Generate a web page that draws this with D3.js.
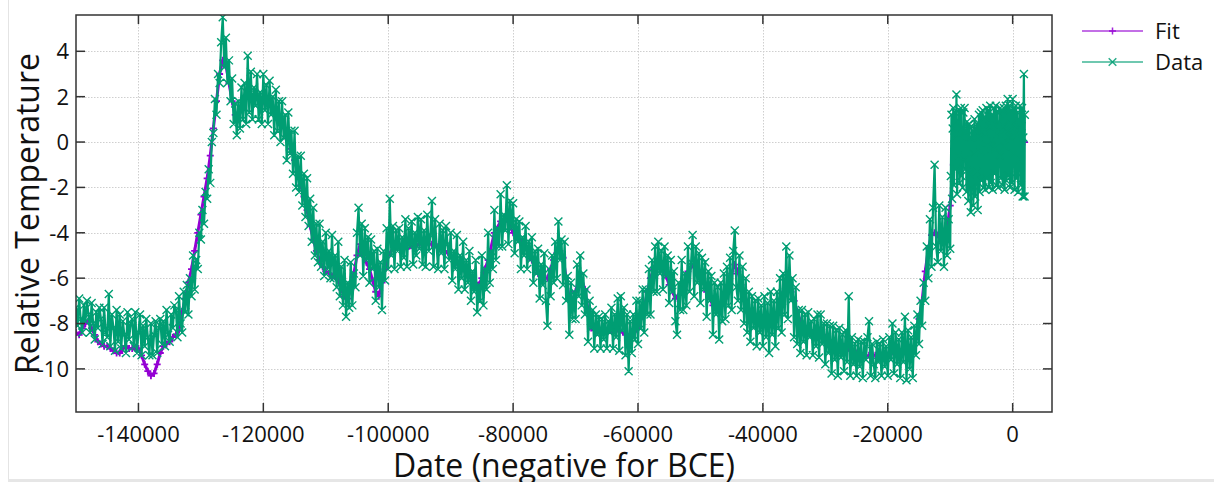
<!DOCTYPE html>
<html><head><meta charset="utf-8">
<script src="https://cdn.jsdelivr.net/npm/d3@7"></script>
<style>html,body{margin:0;padding:0;background:#fff;}svg{display:block;font-family:"Open Sans","Noto Sans",sans-serif;}</style>
</head><body>
<svg id="chart" width="1214" height="482"></svg>
<script>
const xTicks = [-140000, -120000, -100000, -80000, -60000, -40000, -20000, 0];
const yTicks = [-10, -8, -6, -4, -2, 0, 2, 4];
const xDomain = [-150000, 6300];
const yDomain = [-11.9, 5.6];
const seriesNames = ["Fit", "Data"];
const xTitle = "Date (negative for BCE)";
const yTitle = "Relative Temperature";

const fitPoints = [
[-150000,-8.4],[-149500,-8.5],[-149000,-8.2],[-148500,-8.0],[-148000,-7.9],[-147500,-8.2],[-147000,-8.5],[-146500,-8.8],[-146000,-8.9],[-145500,-9.0],[-145000,-9.0],[-144500,-9.1],[-144000,-9.2],[-143500,-9.3],[-143000,-9.3],[-142500,-9.1],[-142000,-9.0],[-141500,-9.1],[-141000,-9.1],[-140500,-9.1],[-140000,-9.1],[-139500,-9.4],[-139000,-9.8],[-138500,-10.1],[-138000,-10.3],[-137500,-10.2],[-137000,-9.8],[-136500,-9.3],[-136000,-9.0],[-135500,-8.9],[-135000,-8.8],[-134500,-8.6],[-134000,-8.5],[-133500,-8.3],[-133000,-7.5],[-132500,-6.9],[-132000,-6.2],[-131500,-5.6],[-131000,-4.8],[-130500,-4.0],[-130000,-3.2],[-129500,-2.4],[-129000,-1.6],[-128500,-0.6],[-128000,0.6],[-127500,1.8],[-127000,3.0],[-126500,3.6],[-126000,3.4],[-125500,2.6],[-125000,1.8],[-124500,1.2],[-124000,1.3],[-123500,1.6],[-123000,1.9],[-122000,2.1],[-121000,2.0],[-120000,1.8],[-119000,1.7],[-118000,1.3],[-117000,0.8],[-116000,0.1],[-115500,-0.3],[-115000,-0.8],[-114500,-1.3],[-114000,-1.9],[-113500,-2.4],[-113000,-3.0],[-112500,-3.7],[-112000,-4.3],[-111500,-4.8],[-111000,-5.2],[-110500,-5.5],[-110000,-5.7],[-109000,-5.9],[-108000,-6.1],[-107500,-6.5],[-107000,-6.8],[-106500,-6.9],[-106000,-6.5],[-105500,-5.8],[-105000,-5.0],[-104500,-4.5],[-104000,-5.0],[-103500,-5.3],[-103000,-5.6],[-102500,-6.1],[-102000,-6.6],[-101500,-6.8],[-101000,-6.2],[-100500,-5.6],[-100000,-5.0],[-99000,-4.6],[-98000,-4.6],[-97000,-4.7],[-96000,-4.6],[-95000,-4.5],[-94000,-4.5],[-93000,-4.5],[-92000,-4.6],[-91000,-4.8],[-90000,-5.0],[-89000,-5.3],[-88000,-5.6],[-87000,-5.9],[-86000,-6.2],[-85500,-6.3],[-85000,-6.0],[-84500,-5.6],[-84000,-5.2],[-83000,-4.0],[-82000,-3.5],[-81000,-3.4],[-80000,-4.0],[-79000,-4.3],[-78000,-4.6],[-77000,-5.2],[-76000,-5.8],[-75000,-6.0],[-74500,-6.0],[-74000,-5.6],[-73500,-5.2],[-73000,-4.9],[-72500,-4.8],[-72000,-5.1],[-71500,-6.0],[-71000,-6.9],[-70500,-7.0],[-70000,-6.6],[-69300,-5.8],[-68500,-6.5],[-68000,-7.4],[-67500,-8.2],[-67000,-8.3],[-66000,-8.4],[-65000,-8.4],[-64000,-8.4],[-63000,-8.3],[-62000,-8.5],[-61000,-8.6],[-60000,-8.2],[-59500,-7.8],[-59000,-7.3],[-58500,-6.6],[-58000,-6.0],[-57500,-5.6],[-57000,-5.3],[-56500,-5.3],[-56000,-5.5],[-55500,-5.9],[-55000,-6.3],[-54000,-6.9],[-53000,-6.5],[-52000,-5.7],[-51000,-5.4],[-50000,-5.8],[-49000,-6.6],[-48000,-7.2],[-47000,-7.5],[-46000,-6.9],[-45500,-6.4],[-45000,-5.8],[-44500,-5.4],[-44000,-5.7],[-43500,-6.3],[-43000,-6.9],[-42000,-7.8],[-41000,-8.0],[-40000,-8.0],[-39000,-8.0],[-38000,-7.8],[-37000,-7.0],[-36500,-6.6],[-36000,-6.3],[-35500,-6.6],[-35000,-7.0],[-34000,-7.9],[-33000,-8.3],[-32000,-8.4],[-31000,-8.5],[-30000,-8.6],[-29000,-8.9],[-28000,-9.1],[-27000,-9.0],[-26000,-9.2],[-25000,-9.3],[-24000,-9.5],[-23000,-9.4],[-22000,-9.4],[-21000,-9.5],[-20000,-9.4],[-19000,-9.3],[-18000,-9.4],[-17000,-9.3],[-16000,-9.2],[-15500,-8.7],[-15000,-7.8],[-14500,-7.0],[-14000,-5.7],[-13500,-4.7],[-13000,-4.1],[-12500,-4.0],[-12000,-4.1],[-11500,-4.2],[-11000,-4.3],[-10500,-3.8],[-10000,-2.8],[-9500,-1.0],[-9000,-0.3],[-8000,-0.4],[-7000,-0.7],[-6000,-0.8],[-5000,-0.5],[-4000,-0.2],[-3000,-0.1],[-2000,-0.1],[-1000,0.0],[0,0.0],[1000,-0.1],[1900,0.0]
];

const dataPoints = [
[-150000,-7.3],[-149750,-8.1],[-149500,-6.9],[-149250,-7.8],[-149000,-8.4],[-148750,-7.2],[-148500,-7.9],[-148250,-7.0],
[-148000,-7.6],[-147750,-8.4],[-147500,-7.1],[-147250,-8.0],[-147000,-8.7],[-146750,-7.5],[-146500,-8.2],[-146250,-7.3],
[-146000,-7.8],[-145750,-8.9],[-145500,-7.3],[-145250,-8.4],[-145000,-8.6],[-144750,-6.7],[-144500,-9.0],[-144250,-7.6],
[-144000,-8.2],[-143750,-9.2],[-143500,-7.4],[-143250,-8.8],[-143000,-7.6],[-142750,-9.1],[-142500,-7.9],[-142250,-8.5],
[-142000,-9.3],[-141750,-7.5],[-141500,-8.7],[-141250,-8.0],[-141000,-7.8],[-140750,-9.0],[-140500,-7.5],[-140250,-9.3],
[-140000,-8.4],[-139750,-7.6],[-139500,-9.4],[-139250,-8.1],[-139000,-9.0],[-138750,-7.8],[-138500,-8.6],[-138250,-9.4],
[-138000,-8.0],[-137750,-9.4],[-137500,-8.5],[-137250,-7.9],[-137000,-9.3],[-136750,-8.2],[-136500,-7.8],[-136250,-8.9],
[-136000,-7.9],[-135750,-9.0],[-135500,-7.4],[-135250,-8.5],[-135000,-8.8],[-134750,-7.6],[-134500,-8.2],[-134250,-7.2],
[-134000,-7.4],[-133750,-8.6],[-133500,-6.8],[-133250,-8.0],[-133000,-8.4],[-132750,-6.6],[-132500,-7.5],[-132250,-6.3],
[-132000,-7.6],[-131750,-6.0],[-131500,-6.8],[-131250,-5.0],[-131000,-6.5],[-130750,-5.2],[-130500,-5.6],[-130250,-4.0],
[-130000,-4.3],[-129750,-3.0],[-129500,-3.6],[-129250,-2.2],[-129000,-2.5],[-128750,-1.2],[-128500,-1.8],[-128250,0.0],
[-128000,0.4],[-127750,1.9],[-127500,1.2],[-127250,3.0],[-127000,2.6],[-126750,4.4],[-126500,5.5],[-126250,3.3],
[-126000,4.6],[-125750,2.6],[-125500,3.6],[-125250,1.8],[-125000,2.8],[-124750,0.8],[-124500,1.7],[-124250,0.3],
[-124000,1.8],[-123750,0.6],[-123500,2.4],[-123250,1.0],[-123000,2.6],[-122750,0.8],[-122500,3.8],[-122250,1.3],
[-122000,3.1],[-121750,1.0],[-121500,2.4],[-121250,1.6],[-121000,3.0],[-120750,1.0],[-120500,2.2],[-120250,0.8],
[-120000,3.0],[-119750,1.4],[-119500,2.5],[-119250,0.8],[-119000,2.7],[-118750,1.2],[-118500,2.0],[-118250,0.3],
[-118000,2.3],[-117750,0.5],[-117500,1.8],[-117250,0.0],[-117000,1.8],[-116750,0.2],[-116500,1.2],[-116250,-0.8],
[-116000,1.3],[-115750,-0.5],[-115500,0.5],[-115250,-1.4],[-115000,0.5],[-114750,-2.0],[-114500,-0.6],[-114250,-2.2],
[-114000,-0.6],[-113750,-2.8],[-113500,-1.4],[-113250,-3.3],[-113000,-1.6],[-112750,-3.7],[-112500,-2.5],[-112250,-4.4],
[-112000,-2.9],[-111750,-5.0],[-111500,-3.6],[-111250,-5.3],[-111000,-3.6],[-110750,-5.5],[-110500,-4.4],[-110250,-5.9],
[-110000,-4.0],[-109750,-5.6],[-109500,-4.8],[-109250,-6.0],[-109000,-4.1],[-108750,-6.0],[-108500,-5.0],[-108250,-6.4],
[-108000,-4.4],[-107750,-6.8],[-107500,-5.5],[-107250,-7.2],[-107000,-5.2],[-106750,-7.7],[-106500,-6.2],[-106250,-7.3],
[-106000,-5.3],[-105750,-7.2],[-105500,-5.8],[-105250,-6.4],[-105000,-4.0],[-104750,-2.9],[-104500,-5.0],[-104250,-3.6],
[-104000,-5.9],[-103750,-3.8],[-103500,-5.2],[-103250,-4.2],[-103000,-6.2],[-102750,-4.3],[-102500,-5.6],[-102250,-4.8],
[-102000,-7.0],[-101750,-4.7],[-101500,-6.4],[-101250,-5.3],[-101000,-7.4],[-100750,-4.8],[-100500,-6.1],[-100250,-3.8],
[-100000,-5.6],[-99750,-2.5],[-99500,-5.0],[-99250,-3.7],[-99000,-5.6],[-98750,-3.9],[-98500,-4.8],[-98250,-3.8],
[-98000,-5.5],[-97750,-4.2],[-97500,-5.1],[-97250,-3.4],[-97000,-5.5],[-96750,-3.8],[-96500,-4.6],[-96250,-3.5],
[-96000,-5.4],[-95750,-4.0],[-95500,-5.0],[-95250,-3.3],[-95000,-4.7],[-94750,-3.4],[-94500,-5.4],[-94250,-3.9],
[-94000,-5.5],[-93750,-3.2],[-93500,-4.8],[-93250,-4.1],[-93000,-2.6],[-92750,-5.5],[-92500,-3.4],[-92250,-4.6],
[-92000,-5.6],[-91750,-3.6],[-91500,-4.9],[-91250,-3.9],[-91000,-5.6],[-90750,-3.7],[-90500,-4.5],[-90250,-5.2],
[-90000,-4.0],[-89750,-6.1],[-89500,-4.8],[-89250,-5.6],[-89000,-4.1],[-88750,-6.5],[-88500,-5.0],[-88250,-6.0],
[-88000,-4.4],[-87750,-6.5],[-87500,-5.2],[-87250,-6.2],[-87000,-4.8],[-86750,-7.0],[-86500,-5.7],[-86250,-6.6],
[-86000,-5.2],[-85750,-7.5],[-85500,-6.3],[-85250,-7.0],[-85000,-5.0],[-84750,-7.2],[-84500,-5.6],[-84250,-6.5],
[-84000,-4.0],[-83750,-6.2],[-83500,-4.8],[-83250,-5.6],[-83000,-3.0],[-82750,-5.2],[-82500,-3.8],[-82250,-4.6],
[-82000,-2.3],[-81750,-4.6],[-81500,-3.2],[-81250,-3.9],[-81000,-1.9],[-80750,-4.5],[-80500,-2.6],[-80250,-3.8],
[-80000,-2.7],[-79750,-4.9],[-79500,-3.4],[-79250,-4.4],[-79000,-3.5],[-78750,-5.6],[-78500,-4.2],[-78250,-5.0],
[-78000,-3.7],[-77750,-5.6],[-77500,-4.4],[-77250,-5.2],[-77000,-4.2],[-76750,-6.2],[-76500,-4.8],[-76250,-5.8],
[-76000,-4.7],[-75750,-6.9],[-75500,-5.4],[-75250,-6.3],[-75000,-4.9],[-74750,-7.0],[-74500,-8.1],[-74250,-5.6],
[-74000,-6.8],[-73750,-5.0],[-73500,-6.2],[-73250,-4.4],[-73000,-6.0],[-72750,-3.5],[-72500,-5.2],[-72250,-4.3],
[-72000,-6.3],[-71750,-4.4],[-71500,-7.0],[-71250,-5.9],[-71000,-8.5],[-70750,-6.2],[-70500,-7.8],[-70250,-6.6],
[-70000,-7.8],[-69750,-5.4],[-69500,-6.8],[-69250,-5.0],[-69000,-7.2],[-68750,-5.8],[-68500,-7.6],[-68250,-6.5],
[-68000,-8.8],[-67750,-7.0],[-67500,-8.2],[-67250,-7.4],[-67000,-9.1],[-66750,-7.6],[-66500,-8.5],[-66250,-7.7],
[-66000,-9.1],[-65750,-7.8],[-65500,-8.7],[-65250,-7.6],[-65000,-9.1],[-64750,-7.9],[-64500,-8.4],[-64250,-7.3],
[-64000,-9.1],[-63750,-7.6],[-63500,-8.6],[-63250,-6.9],[-63000,-9.2],[-62750,-6.8],[-62500,-8.3],[-62250,-7.3],
[-62000,-9.4],[-61750,-7.6],[-61500,-10.1],[-61250,-7.9],[-61000,-9.3],[-60750,-7.6],[-60500,-8.7],[-60250,-7.0],
[-60000,-8.9],[-59750,-7.0],[-59500,-8.2],[-59250,-6.5],[-59000,-8.4],[-58750,-6.5],[-58500,-7.6],[-58250,-5.6],
[-58000,-7.6],[-57750,-5.2],[-57500,-6.6],[-57250,-4.6],[-57000,-6.6],[-56750,-4.4],[-56500,-5.8],[-56250,-4.8],
[-56000,-6.5],[-55750,-4.6],[-55500,-5.9],[-55250,-5.0],[-55000,-7.1],[-54750,-5.2],[-54500,-6.6],[-54250,-5.7],
[-54000,-7.9],[-53750,-8.5],[-53500,-6.2],[-53250,-7.4],[-53000,-5.2],[-52750,-7.4],[-52500,-5.8],[-52250,-7.2],
[-52000,-4.6],[-51750,-6.6],[-51500,-5.3],[-51250,-4.1],[-51000,-6.8],[-50750,-4.6],[-50500,-6.2],[-50250,-4.9],
[-50000,-7.1],[-49750,-5.1],[-49500,-6.5],[-49250,-5.3],[-49000,-7.7],[-48750,-5.7],[-48500,-7.0],[-48250,-5.9],
[-48000,-8.5],[-47750,-6.2],[-47500,-7.6],[-47250,-6.4],[-47000,-8.7],[-46750,-6.2],[-46500,-7.9],[-46250,-5.8],
[-46000,-7.8],[-45750,-5.5],[-45500,-7.2],[-45250,-5.1],[-45000,-7.4],[-44750,-4.8],[-44500,-3.9],[-44250,-6.4],
[-44000,-7.0],[-43750,-5.0],[-43500,-7.4],[-43250,-5.5],[-43000,-8.0],[-42750,-6.0],[-42500,-8.4],[-42250,-6.6],
[-42000,-8.8],[-41750,-6.8],[-41500,-8.2],[-41250,-7.0],[-41000,-9.0],[-40750,-6.9],[-40500,-8.4],[-40250,-7.2],
[-40000,-9.0],[-39750,-6.8],[-39500,-8.6],[-39250,-7.1],[-39000,-9.3],[-38750,-6.6],[-38500,-8.5],[-38250,-7.0],
[-38000,-9.0],[-37750,-6.6],[-37500,-8.2],[-37250,-6.0],[-37000,-8.4],[-36750,-5.8],[-36500,-7.6],[-36250,-4.6],
[-36000,-7.8],[-35750,-5.0],[-35500,-7.0],[-35250,-6.0],[-35000,-8.6],[-34750,-6.4],[-34500,-8.9],[-34250,-7.4],
[-34000,-9.3],[-33750,-7.4],[-33500,-8.8],[-33250,-7.6],[-33000,-9.4],[-32750,-7.5],[-32500,-8.6],[-32250,-7.9],
[-32000,-9.4],[-31750,-7.8],[-31500,-9.0],[-31250,-7.6],[-31000,-9.5],[-30750,-7.6],[-30500,-8.9],[-30250,-8.0],
[-30000,-9.8],[-29750,-8.0],[-29500,-9.3],[-29250,-8.1],[-29000,-10.2],[-28750,-8.1],[-28500,-9.6],[-28250,-8.3],
[-28000,-10.3],[-27750,-8.2],[-27500,-9.5],[-27250,-8.5],[-27000,-10.1],[-26750,-8.3],[-26500,-9.7],[-26250,-6.8],
[-26000,-10.3],[-25750,-8.6],[-25500,-9.8],[-25250,-8.9],[-25000,-10.3],[-24750,-8.7],[-24500,-9.9],[-24250,-8.8],
[-24000,-10.4],[-23750,-8.8],[-23500,-9.6],[-23250,-8.6],[-23000,-7.9],[-22750,-10.3],[-22500,-8.9],[-22250,-9.8],
[-22000,-10.4],[-21750,-8.8],[-21500,-9.7],[-21250,-8.9],[-21000,-10.3],[-20750,-8.7],[-20500,-9.9],[-20250,-9.0],
[-20000,-10.3],[-19750,-8.6],[-19500,-9.6],[-19250,-8.0],[-19000,-10.2],[-18750,-8.4],[-18500,-9.8],[-18250,-8.7],
[-18000,-10.4],[-17750,-8.4],[-17500,-9.7],[-17250,-7.7],[-17000,-10.5],[-16750,-8.3],[-16500,-10.0],[-16250,-8.6],
[-16000,-10.4],[-15750,-8.1],[-15500,-9.4],[-15250,-7.6],[-15000,-8.9],[-14750,-7.0],[-14500,-8.1],[-14250,-6.2],
[-14000,-7.0],[-13750,-4.6],[-13500,-6.0],[-13250,-3.4],[-13000,-5.5],[-12750,-2.9],[-12500,-1.0],[-12250,-4.6],
[-12000,-5.3],[-11750,-2.8],[-11500,-4.8],[-11250,-3.3],[-11000,-5.5],[-10750,-2.9],[-10500,-5.0],[-10250,-3.4],
[-10000,-4.7],[-9900,-1.5],[-9800,1.2],[-9700,-2.5],[-9600,0.6],[-9500,1.5],[-9400,-1.9],[-9300,0.2],[-9200,1.3],[-9100,-1.2],
[-9000,2.1],[-8900,-2.3],[-8800,0.9],[-8700,-0.6],[-8600,1.4],[-8500,-1.8],[-8400,0.3],[-8300,1.5],[-8200,-1.5],[-8100,0.6],
[-8000,-2.0],[-7900,1.3],[-7800,-0.8],[-7700,1.5],[-7600,-1.2],[-7500,0.4],[-7400,-2.2],[-7300,0.9],[-7200,-1.0],[-7100,-2.6],
[-7000,0.8],[-6900,-1.4],[-6800,0.2],[-6700,-3.1],[-6600,0.7],[-6500,-2.0],[-6400,0.5],[-6300,-2.8],[-6200,-0.5],[-6100,1.0],
[-6000,-2.4],[-5900,0.6],[-5800,-1.3],[-5700,0.8],[-5600,-3.0],[-5500,0.2],[-5400,1.2],[-5300,-2.2],[-5200,-0.4],[-5100,1.3],
[-5000,-1.7],[-4900,0.5],[-4800,1.4],[-4700,-2.0],[-4600,-0.3],[-4500,1.1],[-4400,-2.1],[-4300,0.4],[-4200,1.5],[-4100,-1.6],
[-4000,-0.2],[-3900,1.4],[-3800,-2.0],[-3700,0.7],[-3600,1.6],[-3500,-1.8],[-3400,0.1],[-3300,1.2],[-3200,-2.1],[-3100,0.8],
[-3000,1.5],[-2900,-1.4],[-2800,-0.3],[-2700,1.6],[-2600,-1.9],[-2500,0.4],[-2400,1.3],[-2300,-2.0],[-2200,0.9],[-2100,-0.6],
[-2000,1.5],[-1900,-1.6],[-1800,0.3],[-1700,1.4],[-1600,-1.9],[-1500,0.7],[-1400,1.5],[-1300,-2.1],[-1200,-0.2],[-1100,1.6],
[-1000,-1.7],[-900,0.5],[-800,1.9],[-700,-1.5],[-600,0.2],[-500,1.6],[-400,-2.0],[-300,0.8],[-200,1.4],[-100,-1.8],
[0,1.9],[100,-0.5],[200,1.5],[300,-2.1],[400,0.6],[500,1.6],[600,-1.6],[700,0.3],[800,1.3],[900,-2.2],
[1000,1.0],[1100,-0.8],[1200,1.6],[1300,-1.9],[1400,0.7],[1500,1.5],[1600,-2.4],[1700,0.2],[1800,3.0],[1900,-2.4],[1950,1.2]
];

const fitColor = "#9400d3";
const dataColor = "#009e73";

const svg = d3.select("#chart");
const M = {left: 76, right: 1052, top: 15, bottom: 412};
const x = d3.scaleLinear().domain(xDomain).range([M.left, M.right]);
const y = d3.scaleLinear().domain(yDomain).range([M.bottom, M.top]);

// screenshot frame artifacts
svg.append("line").attr("x1", 8.5).attr("x2", 8.5).attr("y1", 0).attr("y2", 479).attr("stroke", "#e4e4e4").attr("stroke-width", 1);
svg.append("rect").attr("x", 8).attr("y", 479).attr("width", 1206).attr("height", 3).attr("fill", "#e6e6e6");

// grid
const grid = svg.append("g").attr("stroke", "#cfcfcf").attr("stroke-width", 1).attr("stroke-dasharray", "1.5,1.5");
grid.selectAll("line.gx").data(xTicks).join("line").attr("class", "gx")
  .attr("x1", d => Math.round(x(d)) + 0.5).attr("x2", d => Math.round(x(d)) + 0.5)
  .attr("y1", M.top).attr("y2", M.bottom);
grid.selectAll("line.gy").data(yTicks).join("line").attr("class", "gy")
  .attr("y1", d => Math.round(y(d)) + 0.5).attr("y2", d => Math.round(y(d)) + 0.5)
  .attr("x1", M.left).attr("x2", M.right);

svg.append("defs").append("clipPath").attr("id", "clip")
  .append("rect").attr("x", M.left).attr("y", M.top).attr("width", M.right - M.left).attr("height", M.bottom - M.top);

const plot = svg.append("g").attr("clip-path", "url(#clip)");
const line = d3.line().x(d => x(d[0])).y(d => y(d[1]));

const plusPath = (cx, cy, s) => `M${cx - s},${cy}H${cx + s}M${cx},${cy - s}V${cy + s}`;
const crossPath = (cx, cy, s) => `M${cx - s},${cy - s}L${cx + s},${cy + s}M${cx - s},${cy + s}L${cx + s},${cy - s}`;

// Fit
plot.append("path").datum(fitPoints).attr("d", line).attr("fill", "none")
  .attr("stroke", fitColor).attr("stroke-width", 3).attr("stroke-linejoin", "round");
plot.append("path")
  .attr("d", fitPoints.map(d => plusPath(x(d[0]), y(d[1]), 3.5)).join(""))
  .attr("stroke", fitColor).attr("stroke-width", 1.8).attr("fill", "none");

// Data
plot.append("path").datum(dataPoints).attr("d", line).attr("fill", "none")
  .attr("stroke", dataColor).attr("stroke-width", 2.2).attr("stroke-linejoin", "round");
plot.append("path")
  .attr("d", dataPoints.map(d => crossPath(x(d[0]), y(d[1]), 4)).join(""))
  .attr("stroke", dataColor).attr("stroke-width", 1.4).attr("fill", "none");

// frame and ticks
const axisColor = "#333";
const tk = 9;
const fr = svg.append("g").attr("stroke", axisColor).attr("stroke-width", 1.5).attr("fill", "none");
fr.append("rect").attr("x", M.left).attr("y", M.top).attr("width", M.right - M.left).attr("height", M.bottom - M.top);
fr.selectAll("line.xb").data(xTicks).join("line").attr("class", "xb")
  .attr("x1", d => x(d)).attr("x2", d => x(d)).attr("y1", M.bottom).attr("y2", M.bottom - tk);
fr.selectAll("line.xt").data(xTicks).join("line").attr("class", "xt")
  .attr("x1", d => x(d)).attr("x2", d => x(d)).attr("y1", M.top).attr("y2", M.top + tk);
fr.selectAll("line.yl").data(yTicks).join("line").attr("class", "yl")
  .attr("y1", d => y(d)).attr("y2", d => y(d)).attr("x1", M.left).attr("x2", M.left + tk);
fr.selectAll("line.yr").data(yTicks).join("line").attr("class", "yr")
  .attr("y1", d => y(d)).attr("y2", d => y(d)).attr("x1", M.right).attr("x2", M.right - tk);

// tick labels
svg.selectAll("text.xl").data(xTicks).join("text").attr("class", "xl")
  .attr("x", d => x(d)).attr("y", 442).attr("text-anchor", "middle")
  .attr("font-size", 22).attr("fill", "#111").text(d => String(d));
svg.selectAll("text.ylb").data(yTicks).join("text").attr("class", "ylb")
  .attr("x", 69).attr("y", d => y(d)).attr("dy", "0.36em").attr("text-anchor", "end")
  .attr("font-size", 22).attr("fill", "#111").text(d => String(d));

// axis titles
svg.append("text").attr("x", (M.left + M.right) / 2).attr("y", 477).attr("text-anchor", "middle")
  .attr("font-size", 32).attr("fill", "#111").text(xTitle);
svg.append("text").attr("transform", `translate(39,${(M.top + M.bottom) / 2}) rotate(-90)`)
  .attr("text-anchor", "middle").attr("font-size", 32).attr("fill", "#111").text(yTitle);

// legend
const legend = svg.append("g");
const legendY = [31, 62];
const colors = [fitColor, dataColor];
seriesNames.forEach((name, i) => {
  const ly = legendY[i];
  legend.append("line").attr("x1", 1082).attr("x2", 1143).attr("y1", ly).attr("y2", ly)
    .attr("stroke", colors[i]).attr("stroke-width", 1.6).attr("opacity", 0.75);
  legend.append("path").attr("d", i === 0 ? plusPath(1112.5, ly, 3.5) : crossPath(1112.5, ly, 3.8))
    .attr("stroke", colors[i]).attr("stroke-width", 1.5).attr("fill", "none").attr("opacity", 0.85);
  legend.append("text").attr("x", 1155).attr("y", ly + 7.5).attr("font-size", 22).attr("fill", "#111").text(name);
});
</script>
</body></html>
